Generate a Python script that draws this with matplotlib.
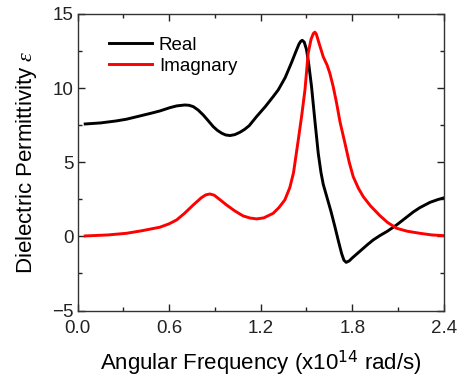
import matplotlib.pyplot as plt
from matplotlib.ticker import MultipleLocator

plt.rcParams['font.family'] = ['Liberation Sans', 'DejaVu Sans']
plt.rcParams['mathtext.fontset'] = 'custom'
plt.rcParams['mathtext.it'] = 'Liberation Serif:italic'

# Real part (black)
freq_real = [0.05, 0.15, 0.25, 0.32, 0.42, 0.48, 0.54, 0.605, 0.65, 0.703, 0.73, 0.758,
             0.79, 0.823, 0.856, 0.889, 0.916, 0.944, 0.97, 0.998, 1.03, 1.064, 1.095,
             1.125, 1.173, 1.23, 1.282, 1.315, 1.36, 1.40, 1.43, 1.45, 1.462, 1.472,
             1.485, 1.50, 1.515, 1.533, 1.555, 1.577, 1.595, 1.61, 1.635, 1.66, 1.685,
             1.71, 1.73, 1.745, 1.76, 1.78, 1.80, 1.85, 1.90, 1.937, 1.98, 2.03, 2.09,
             2.15, 2.20, 2.243, 2.31, 2.36, 2.40]
eps_real = [7.58, 7.65, 7.78, 7.90, 8.15, 8.30, 8.46, 8.68, 8.80, 8.86, 8.84, 8.75,
            8.52, 8.19, 7.80, 7.40, 7.15, 6.96, 6.84, 6.80, 6.86, 7.02, 7.22,
            7.47, 8.08, 8.75, 9.43, 9.88, 10.70, 11.67, 12.45, 12.95, 13.15, 13.22,
            13.10, 12.60, 11.60, 10.10, 7.80, 5.60, 4.30, 3.50, 2.60, 1.70, 0.70,
            -0.35, -1.15, -1.60, -1.75, -1.65, -1.45, -1.00, -0.55, -0.24, 0.05, 0.35, 0.77,
            1.25, 1.65, 1.94, 2.30, 2.48, 2.60]

# Imaginary part (red)
freq_imag = [0.05, 0.20, 0.32, 0.42, 0.539, 0.60, 0.649, 0.70, 0.758, 0.81, 0.84, 0.867,
             0.895, 0.93, 0.976, 1.03, 1.085, 1.13, 1.173, 1.22, 1.282, 1.32, 1.358, 1.391,
             1.415, 1.446, 1.468, 1.49, 1.511, 1.53, 1.545, 1.555, 1.565, 1.58, 1.61,
             1.635, 1.653, 1.675, 1.697, 1.72, 1.752, 1.78, 1.806, 1.84, 1.872, 1.92,
             1.981, 2.03, 2.09, 2.16, 2.243, 2.32, 2.40]
eps_imag = [0.03, 0.10, 0.21, 0.38, 0.62, 0.85, 1.11, 1.55, 2.12, 2.60, 2.80, 2.86,
            2.78, 2.50, 2.12, 1.72, 1.38, 1.24, 1.18, 1.25, 1.56, 1.95, 2.46, 3.30,
            4.30, 6.50, 8.10, 9.88, 12.35, 13.30, 13.68, 13.77, 13.62, 13.10, 12.10,
            11.55, 11.00, 10.10, 9.00, 7.70, 6.28, 5.00, 4.03, 3.25, 2.68, 2.05,
            1.40, 0.95, 0.55, 0.35, 0.21, 0.10, 0.05]

fig = plt.figure(figsize=(4.59, 3.76), dpi=100)
ax = fig.add_axes([0.169, 0.174, 0.798, 0.789])

ax.plot(freq_real, eps_real, color='black', lw=2.1, label='Real')
ax.plot(freq_imag, eps_imag, color='red', lw=2.1, label='Imagnary')

ax.set_xlim(0.0, 2.4)
ax.set_ylim(-5, 15)
ax.xaxis.set_major_locator(MultipleLocator(0.6))
ax.xaxis.set_minor_locator(MultipleLocator(0.3))
ax.yaxis.set_major_locator(MultipleLocator(5))
ax.yaxis.set_minor_locator(MultipleLocator(2.5))
ax.xaxis.set_major_formatter(plt.FormatStrFormatter('%.1f'))

ax.tick_params(which='both', direction='in', top=True, right=True,
               colors='#222222', labelsize=13.5)
ax.tick_params(which='major', length=5, width=1)
ax.tick_params(which='minor', length=3, width=1)
ax.tick_params(axis='x', pad=6.5)
ax.tick_params(axis='y', pad=3)
for s in ax.spines.values():
    s.set_color('#333333')
    s.set_linewidth(1)

ax.set_xlabel('Angular Frequency (x10$^{14}$ rad/s)', fontsize=16, labelpad=8)
ax.set_ylabel(r'Dielectric Permittivity $\mathit{\varepsilon}$', fontsize=16, labelpad=9)

ax.legend(loc='upper left', bbox_to_anchor=(0.04, 0.98), frameon=False, fontsize=13.5,
          handlelength=2.3, handletextpad=0.35, labelspacing=0.2)

fig.savefig('out.png', dpi=100)
